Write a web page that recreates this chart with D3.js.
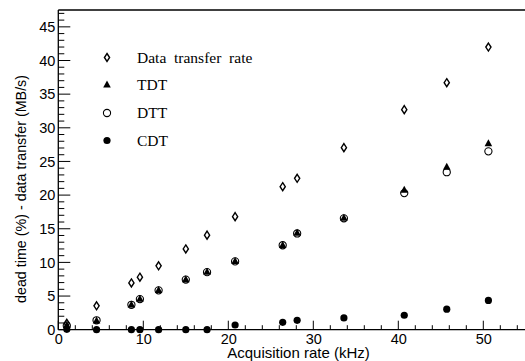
<!DOCTYPE html>
<html><head><meta charset="utf-8">
<script src="https://cdn.jsdelivr.net/npm/d3@7"></script>
<style>body{margin:0;background:#fff}svg{display:block}</style>
</head><body>
<svg id="c" width="525" height="361"></svg>
<script>
const acqRate = [1.0, 4.5, 8.6, 9.6, 11.8, 15.0, 17.5, 20.8, 26.4, 28.1, 33.6, 40.7, 45.7, 50.6];
const dataTransfer = [0.95, 3.55, 6.95, 7.8, 9.5, 12.0, 14.05, 16.8, 21.25, 22.5, 27.05, 32.7, 36.7, 42.0];
const tdt = [0.7, 1.35, 3.75, 4.6, 5.9, 7.5, 8.6, 10.2, 12.6, 14.4, 16.65, 20.8, 24.2, 27.7];
const dtt = [0.6, 1.4, 3.7, 4.55, 5.85, 7.45, 8.55, 10.15, 12.55, 14.3, 16.55, 20.3, 23.4, 26.5];
const cdt = [0.05, 0.0, 0.0, 0.0, 0.0, 0.0, 0.0, 0.7, 1.1, 1.4, 1.75, 2.15, 3.05, 4.35];
const xTicks = [0, 10, 20, 30, 40, 50];
const yTicks = [0, 5, 10, 15, 20, 25, 30, 35, 40, 45];
const legendLabels = ["Data  transfer  rate", "TDT", "DTT", "CDT"];

const svg = d3.select("#c");
const L = 58.3, T = 10, B = 329.7;
const x = d3.scaleLinear().domain([0, 55]).range([L, L + 55 * 8.5]);
const y = d3.scaleLinear().domain([0, 47.5]).range([B, B - 47.5 * 6.73]);
const sans = "Liberation Sans, Arial, sans-serif";

// axes
const xAxis = d3.axisBottom(x).tickValues(xTicks).tickSize(0).tickPadding(4);
const xg = svg.append("g").attr("transform", `translate(0,${B})`).call(xAxis);
xg.select(".domain").remove();
xg.selectAll("text").attr("font-family", sans).attr("font-size", 14.5).attr("fill", "#000").attr("dy", "0.72em");

const yAxis = d3.axisLeft(y).tickValues(yTicks).tickSize(0).tickPadding(3);
const yg = svg.append("g").attr("transform", `translate(${L},0)`).call(yAxis);
yg.select(".domain").remove();
yg.selectAll("text").attr("font-family", sans).attr("font-size", 14.5).attr("fill", "#000");

// minor/major ticks
const xMinor = d3.range(0, 55.01, 2).filter(v => v % 10 !== 0);
svg.append("g").selectAll("line").data(xTicks).join("line")
  .attr("x1", d => x(d)).attr("x2", d => x(d)).attr("y1", B).attr("y2", B - 9)
  .attr("stroke", "#000").attr("stroke-width", 1);
svg.append("g").selectAll("line").data(xMinor).join("line")
  .attr("x1", d => x(d)).attr("x2", d => x(d)).attr("y1", B).attr("y2", B - 4.5)
  .attr("stroke", "#000").attr("stroke-width", 1);
const yMinor = d3.range(0, 47.01, 1).filter(v => v % 5 !== 0);
svg.append("g").selectAll("line").data(yTicks).join("line")
  .attr("x1", L).attr("x2", L + 12).attr("y1", d => y(d)).attr("y2", d => y(d))
  .attr("stroke", "#000").attr("stroke-width", 1);
svg.append("g").selectAll("line").data(yMinor).join("line")
  .attr("x1", L).attr("x2", L + 6).attr("y1", d => y(d)).attr("y2", d => y(d))
  .attr("stroke", "#000").attr("stroke-width", 1);

// frame lines
svg.append("line").attr("x1", L).attr("x2", 525).attr("y1", B).attr("y2", B).attr("stroke", "#000").attr("stroke-width", 1.3);
svg.append("line").attr("x1", L).attr("x2", L).attr("y1", T).attr("y2", B).attr("stroke", "#000").attr("stroke-width", 1.3);
svg.append("line").attr("x1", L).attr("x2", 525).attr("y1", T).attr("y2", T).attr("stroke", "#000").attr("stroke-width", 1.3);

// axis titles
svg.append("text").attr("x", 298.5).attr("y", 357.5).attr("text-anchor", "middle")
  .attr("font-family", sans).attr("font-size", 15).text("Acquisition rate (kHz)");
svg.append("text").attr("transform", "translate(26,189) rotate(-90)").attr("text-anchor", "middle")
  .attr("font-family", sans).attr("font-size", 14.3).text("dead time (%) - data transfer (MB/s)");

// marker drawers
function diamond(g, cx, cy) {
  g.append("path").attr("d", `M${cx},${cy-4} L${cx+2.6},${cy} L${cx},${cy+4} L${cx-2.6},${cy} Z`)
    .attr("fill", "#fff").attr("stroke", "#000").attr("stroke-width", 1.4);
}
function triangle(g, cx, cy) {
  g.append("path").attr("d", `M${cx},${cy-4} L${cx+3.8},${cy+3} L${cx-3.8},${cy+3} Z`).attr("fill", "#000");
}
function openCircle(g, cx, cy) {
  g.append("circle").attr("cx", cx).attr("cy", cy).attr("r", 3.6).attr("fill", "none").attr("stroke", "#000").attr("stroke-width", 1.1);
}
function filledCircle(g, cx, cy) {
  g.append("circle").attr("cx", cx).attr("cy", cy).attr("r", 3.6).attr("fill", "#000");
}

const pg = svg.append("g");
acqRate.forEach((a, i) => diamond(pg, x(a), y(dataTransfer[i])));
acqRate.forEach((a, i) => openCircle(pg, x(a), y(dtt[i])));
acqRate.forEach((a, i) => triangle(pg, x(a), y(tdt[i])));
acqRate.forEach((a, i) => filledCircle(pg, x(a), y(cdt[i])));

// legend
const lg = svg.append("g");
const drawers = [diamond, triangle, openCircle, filledCircle];
const ly = [57.5, 84.5, 113, 140.5];
legendLabels.forEach((t, i) => {
  drawers[i](lg, 107, ly[i]);
  lg.append("text").attr("x", 137).attr("y", ly[i] + 5).attr("font-family", "Liberation Serif, Times New Roman, serif")
    .attr("font-size", 15.5).style("white-space", "pre").text(t);
});
</script>
</body></html>
